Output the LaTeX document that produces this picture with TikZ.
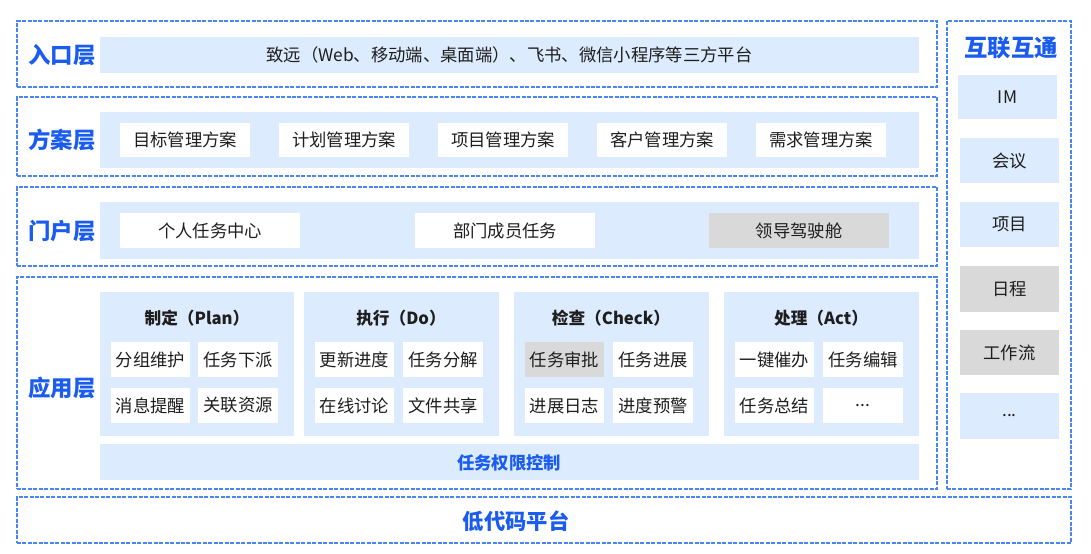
\documentclass[tikz,border=0pt]{standalone}
\usepackage{fontspec}
\setmainfont{Noto Sans CJK SC}
\definecolor{lblue}{RGB}{26,92,240}
\definecolor{dashblue}{RGB}{74,134,240}
\definecolor{panelblue}{RGB}{220,235,253}
\definecolor{cellgray}{RGB}{217,217,217}
\definecolor{txt}{RGB}{30,30,30}
% box from pixel corners (x1,y1)-(x2,y2)
\newcommand\pxbox[7]{\node[#1, minimum width={(#5-#3)*0.75pt}, minimum height={(#6-#4)*0.75pt}] (#2) at ({(#3+#5)/2},{(#4+#6)/2}) {#7};}
\begin{document}
\begin{tikzpicture}[x=0.75pt,y=-0.75pt,
  layer/.style={draw=dashblue, line width=0.9pt, dash pattern=on 3pt off 1.1pt, inner sep=0pt},
  panel/.style={fill=panelblue, inner sep=0pt, text=txt, font=\fontsize{13}{15}\selectfont},
  cell/.style={fill=white, inner sep=0pt, text=txt, font=\fontsize{13}{15}\selectfont},
  gcell/.style={cell, fill=cellgray},
  bcell/.style={cell, fill=panelblue},
  lbl/.style={text=lblue, font=\fontsize{16.8}{19}\selectfont\bfseries},
  ttl/.style={text=txt, font=\fontsize{12.5}{15}\selectfont\bfseries},
  btxt/.style={text=lblue, font=\fontsize{13}{15}\selectfont\bfseries}]
\useasboundingbox[fill=white] (0,0) rectangle (1091,553);

% layer frames
\pxbox{layer}{L1}{17}{21}{937}{87}{}
\pxbox{layer}{L2}{17}{97}{937}{176}{}
\pxbox{layer}{L3}{17}{187}{937}{266}{}
\pxbox{layer}{L4}{17}{277}{937}{489}{}
\pxbox{layer}{L5}{17}{497}{1071}{543}{}
\pxbox{layer}{R}{947}{21}{1071}{489}{}

% layer labels
\node[lbl] (t1) at (62,55) {入口层};
\node[lbl] (t2) at (62,140) {方案层};
\node[lbl] (t3) at (62,231) {门户层};
\node[lbl] (t4) at (62,388) {应用层};
\node[lbl, font=\fontsize{16}{19}\selectfont\bfseries] (t5) at (516,521) {低代码平台};
\node[lbl, font=\fontsize{17.5}{19}\selectfont\bfseries] (tR) at (1011,48) {互联互通};

% entry layer
\pxbox{panel}{entry}{100}{37}{919}{73}{致远（Web、移动端、桌面端）、飞书、微信小程序等三方平台}

% solution layer
\pxbox{panel}{sp}{100}{112}{919}{168}{}
\pxbox{cell}{s1}{120}{123}{250}{157}{目标管理方案}
\pxbox{cell}{s2}{279}{123}{409}{157}{计划管理方案}
\pxbox{cell}{s3}{438}{123}{568}{157}{项目管理方案}
\pxbox{cell}{s4}{597}{123}{727}{157}{客户管理方案}
\pxbox{cell}{s5}{756}{123}{886}{157}{需求管理方案}

% portal layer
\pxbox{panel}{pp}{100}{202}{919}{259}{}
\pxbox{cell}{p1}{120}{213}{300}{248}{个人任务中心}
\pxbox{cell}{p2}{415}{213}{595}{248}{部门成员任务}
\pxbox{gcell}{p3}{709}{213}{889}{248}{领导驾驶舱}

% application layer
\pxbox{panel}{a1}{100}{292}{294}{436}{}
\pxbox{panel}{a2}{304}{292}{499}{436}{}
\pxbox{panel}{a3}{514}{292}{709}{436}{}
\pxbox{panel}{a4}{724}{292}{919}{436}{}
\node[ttl] (a1t) at (197,318) {制定（Plan）};
\node[ttl] (a2t) at (401,318) {执行（Do）};
\node[ttl] (a3t) at (611,318) {检查（Check）};
\node[ttl] (a4t) at (821,318) {处理（Act）};

\pxbox{cell}{a11}{111}{342}{190}{377}{分组维护}
\pxbox{cell}{a12}{198}{342}{278}{377}{任务下派}
\pxbox{cell}{a13}{111}{388}{190}{423}{消息提醒}
\pxbox{cell}{a14}{198}{388}{278}{423}{关联资源}

\pxbox{cell}{a21}{315}{342}{394}{377}{更新进度}
\pxbox{cell}{a22}{403}{342}{483}{377}{任务分解}
\pxbox{cell}{a23}{315}{388}{394}{423}{在线讨论}
\pxbox{cell}{a24}{403}{388}{483}{423}{文件共享}

\pxbox{gcell}{a31}{525}{342}{604}{377}{任务审批}
\pxbox{cell}{a32}{613}{342}{693}{377}{任务进展}
\pxbox{cell}{a33}{525}{388}{604}{423}{进展日志}
\pxbox{cell}{a34}{613}{388}{693}{423}{进度预警}

\pxbox{cell}{a41}{735}{342}{814}{377}{一键催办}
\pxbox{cell}{a42}{823}{342}{903}{377}{任务编辑}
\pxbox{cell}{a43}{735}{388}{814}{423}{任务总结}
\pxbox{cell}{a44}{823}{388}{903}{423}{...}

\pxbox{panel}{perm}{100}{444}{919}{480}{}
\node[btxt] (permt) at (509,463) {任务权限控制};

% interconnection column
\pxbox{bcell}{r1}{958}{75}{1057}{119}{IM}
\pxbox{bcell}{r2}{960}{138}{1059}{183}{会议}
\pxbox{bcell}{r3}{960}{202}{1059}{247}{项目}
\pxbox{gcell}{r4}{960}{266}{1059}{312}{日程}
\pxbox{gcell}{r5}{960}{330}{1059}{375}{工作流}
\pxbox{bcell}{r6}{960}{393}{1059}{439}{...}
\end{tikzpicture}
\end{document}
